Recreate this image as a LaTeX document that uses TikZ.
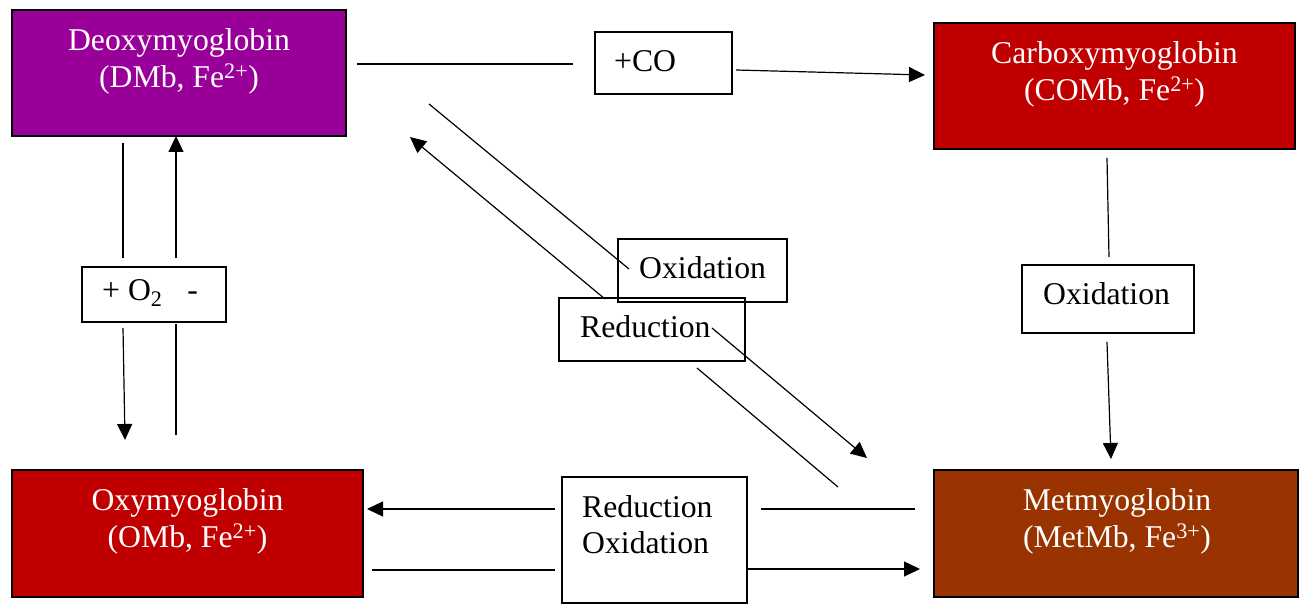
\documentclass[tikz,border=0pt]{standalone}
\usepackage{fontspec}
\setmainfont{Liberation Serif}
\usetikzlibrary{arrows.meta}
\definecolor{dmbcol}{HTML}{990099}
\definecolor{redcol}{HTML}{C00000}
\definecolor{metcol}{HTML}{993300}
\begin{document}
\begin{tikzpicture}[x=1pt,y=-1pt,
  statebox/.style={draw=black, line width=2pt, inner sep=0pt},
  statetext/.style={text=white, align=center, anchor=north, inner sep=0pt,
    font=\fontsize{31.7}{37}\selectfont},
  lblbox/.style={draw=black, line width=1.3pt, inner sep=0pt},
  lbltext/.style={text=black, inner sep=0pt, font=\fontsize{31.7}{36}\selectfont},
  conn/.style={line width=1.2pt},
  arr/.style={line width=1.2pt, -{Triangle[length=16pt,width=15pt]}}]
\useasboundingbox (0,0) rectangle (1302,607);

% state boxes
\node[statebox, fill=dmbcol, minimum width=334pt, minimum height=126pt] (dmb) at (179,73) {};
\node[statebox, fill=redcol, minimum width=361pt, minimum height=126pt] (comb) at (1114.5,86) {};
\node[statebox, fill=redcol, minimum width=351pt, minimum height=127pt] (omb) at (187.5,533.5) {};
\node[statebox, fill=metcol, minimum width=364pt, minimum height=127pt] (met) at (1116,533.5) {};

\node[statetext] (dmbt) at (179,24.1) {\strut Deoxymyoglobin\\\strut(DMb, Fe\textsuperscript{2+})};
\node[statetext] (combt) at (1114.5,37.1) {\strut Carboxymyoglobin\\\strut(COMb, Fe\textsuperscript{2+})};
\node[statetext] (ombt) at (187.5,484.1) {\strut Oxymyoglobin\\\strut(OMb, Fe\textsuperscript{2+})};
\node[statetext] (mett) at (1117,484.1) {\strut Metmyoglobin\\\strut(MetMb, Fe\textsuperscript{3+})};

% label boxes
\node[lblbox, minimum width=137pt, minimum height=62pt] (co) at (663.5,63) {};
\node[lblbox, minimum width=144pt, minimum height=55pt] (o2) at (154,294.5) {};
\node[lblbox, minimum width=169pt, minimum height=63pt] (oxm) at (702.5,270.5) {};
\node[lblbox, minimum width=186pt, minimum height=63pt] (redm) at (652,329.5) {};
\node[lblbox, minimum width=185pt, minimum height=126pt] (rox) at (654.5,540) {};
\node[lblbox, minimum width=172pt, minimum height=68pt] (oxr) at (1108,299) {};

\node[lbltext, anchor=base west] (cot) at (614,72) {+CO};
\node[lbltext, anchor=base west] (o2t) at (102,300) {+ O\textsubscript{2}\hspace{25pt}-};
\node[lbltext, anchor=base west] (oxmt) at (639,278) {Oxidation};
\node[lbltext, anchor=base west] (redmt) at (580,337) {Reduction};
\node[lbltext, anchor=base west] (roxt1) at (582,517) {Reduction};
\node[lbltext, anchor=base west] (roxt2) at (582,553) {Oxidation};
\node[lbltext, anchor=base west] (oxrt) at (1043,304) {Oxidation};

% coordinates for free ends
\coordinate (c1a) at (357,64);  \coordinate (c1b) at (573,64);
\coordinate (c1c) at (736,70);  \coordinate (c1d) at (925,75);
\coordinate (c2a) at (123,143); \coordinate (c2b) at (123,258);
\coordinate (c2c) at (123,328); \coordinate (c2d) at (125,440);
\coordinate (c3a) at (176,435); \coordinate (c3b) at (176,324);
\coordinate (c3c) at (176,258); \coordinate (c3d) at (176,136);
\coordinate (c4a) at (429,104); \coordinate (c4b) at (629,269);
\coordinate (c4c) at (712,328); \coordinate (c4d) at (867,458);
\coordinate (c5a) at (838,487); \coordinate (c5b) at (697,368);
\coordinate (c5c) at (605,299); \coordinate (c5d) at (410,137);
\coordinate (c6a) at (915,509); \coordinate (c6b) at (761,509);
\coordinate (c6c) at (555,509); \coordinate (c6d) at (367,509);
\coordinate (c7a) at (372,570); \coordinate (c7b) at (555,570);
\coordinate (c7c) at (747,569); \coordinate (c7d) at (920,569);
\coordinate (c8a) at (1107,158); \coordinate (c8b) at (1109,257);
\coordinate (c8c) at (1107,342); \coordinate (c8d) at (1111,459);

% connectors
\draw[conn] (c1a) -- (c1b);  \draw[arr] (c1c) -- (c1d);
\draw[conn] (c2a) -- (c2b);  \draw[arr] (c2c) -- (c2d);
\draw[conn] (c3a) -- (c3b);  \draw[arr] (c3c) -- (c3d);
\draw[conn] (c4a) -- (c4b);  \draw[arr] (c4c) -- (c4d);
\draw[conn] (c5a) -- (c5b);  \draw[arr] (c5c) -- (c5d);
\draw[conn] (c6a) -- (c6b);  \draw[arr] (c6c) -- (c6d);
\draw[conn] (c7a) -- (c7b);  \draw[arr] (c7c) -- (c7d);
\draw[conn] (c8a) -- (c8b);  \draw[arr] (c8c) -- (c8d);
\end{tikzpicture}
\end{document}
